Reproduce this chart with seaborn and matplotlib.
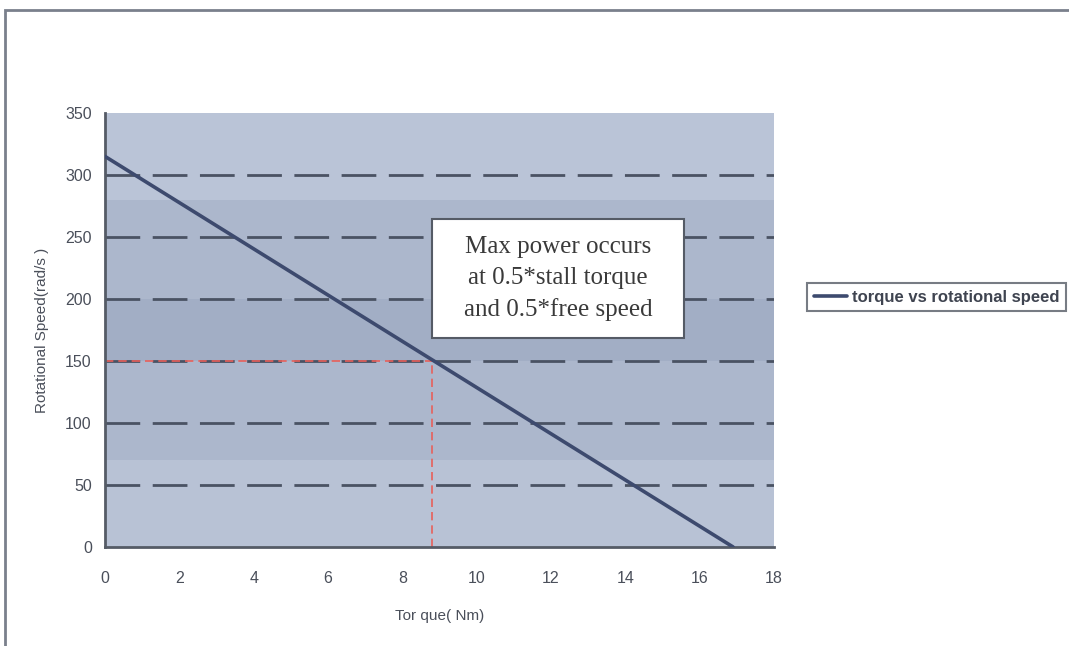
import matplotlib
matplotlib.use("Agg")
import matplotlib.pyplot as plt
import seaborn as sns
import pandas as pd
from matplotlib.patches import Rectangle

sns.set_theme(style="white")
plt.rcParams['font.family'] = ['Liberation Sans', 'DejaVu Sans']

# Data
torque = [0.0, 16.9]
speed = [315.0, 0.0]
max_power_torque = 8.8
max_power_speed = 150.0
x_ticks = [0, 2, 4, 6, 8, 10, 12, 14, 16, 18]
y_ticks = [0, 50, 100, 150, 200, 250, 300, 350]
bands = [(0, 70), (70, 150), (150, 200), (200, 280), (280, 350)]
band_colors = ["#b8c2d5", "#acb7cc", "#a2aec5", "#acb7cc", "#bac4d7"]
note_text = "Max power occurs\nat 0.5*stall torque\nand 0.5*free speed"

df = pd.DataFrame({"Torque": torque, "Speed": speed})

fig = plt.figure(figsize=(10.69, 6.46), dpi=100)
fig.patch.set_facecolor("white")
# outer frame
fig.add_artist(Rectangle((5/1069, -0.05), 1.2, 1 - 10/646 + 0.05,
                         transform=fig.transFigure, fill=False,
                         edgecolor="#7a808c", linewidth=2))

ax = fig.add_axes([105/1069, 1 - 547/646, (774 - 105)/1069, (547 - 113)/646])
for (lo, hi), c in zip(bands, band_colors):
    ax.axhspan(lo, hi, color=c, zorder=0, linewidth=0)

for yv in y_ticks[1:-1]:
    ax.axhline(yv, color="#4a5263", linewidth=2, linestyle=(0, (12.5, 4.5)), zorder=1)

ax.plot([0, max_power_torque], [max_power_speed, max_power_speed],
        color="#e8605a", linewidth=1.2, linestyle=(0, (5, 3)), zorder=2)
ax.plot([max_power_torque, max_power_torque], [0, max_power_speed],
        color="#e8605a", linewidth=1.2, linestyle=(0, (5, 3)), zorder=2)

sns.lineplot(data=df, x="Torque", y="Speed", ax=ax, color="#3d4a6e",
             linewidth=2.6, label="torque vs rotational speed", zorder=3)

ax.set_xlim(0, 18)
ax.set_ylim(0, 350)
ax.set_xticks(x_ticks)
ax.set_yticks(y_ticks)
ax.tick_params(axis="both", direction="inout", length=7, width=1.5,
               color="#555b66", labelsize=11.5, labelcolor="#4a4f5a")
ax.tick_params(axis="x", pad=14)
ax.tick_params(axis="y", pad=6)
for s in ["top", "right"]:
    ax.spines[s].set_visible(False)
for s in ["left", "bottom"]:
    ax.spines[s].set_color("#555b66")
    ax.spines[s].set_linewidth(2)
ax.set_xlabel("Tor que( Nm)", fontsize=11, color="#4a4f5a", labelpad=16)
ax.set_ylabel("Rotational Speed(rad/s )", fontsize=11, color="#4a4f5a", labelpad=12)

# annotation box
ax.add_patch(Rectangle((8.80, 168.5), 6.78, 96.0, facecolor="white",
                       edgecolor="#555b66", linewidth=1.5, zorder=5))
ax.text(12.19, 216.5, note_text,
        fontsize=18, family="Liberation Serif", color="#3a3a3a",
        ha="center", va="center", linespacing=1.5, zorder=6)

leg = ax.legend(loc="upper left", bbox_to_anchor=(807/1069, 1 - 283/646),
                bbox_transform=fig.transFigure, fontsize=12,
                frameon=True, fancybox=False, handlelength=2.0,
                handletextpad=0.3, borderpad=0.4, borderaxespad=0)
leg.get_frame().set_edgecolor("#555b66")
leg.get_frame().set_linewidth(1.5)
for t in leg.get_texts():
    t.set_fontweight("bold")
    t.set_color("#3f4450")

fig.savefig("out.png", dpi=100)
